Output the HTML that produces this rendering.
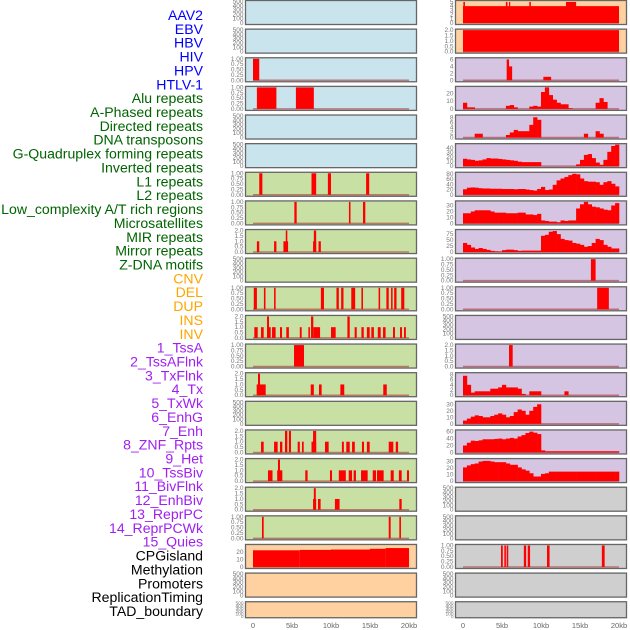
<!DOCTYPE html>
<html><head><meta charset="utf-8">
<style>
html,body{margin:0;padding:0;background:#fff;}
svg{display:block;font-family:"Liberation Sans",sans-serif;}
</style></head>
<body>
<svg id="chart" width="630" height="630" viewBox="0 0 630 630"></svg>
<script>
// ---- labels ----
const labelTexts = ["AAV2","EBV","HBV","HIV","HPV","HTLV-1","Alu repeats","A-Phased repeats","Directed repeats","DNA transposons","G-Quadruplex forming repeats","Inverted repeats","L1 repeats","L2 repeats","Low_complexity A/T rich regions","Microsatellites","MIR repeats","Mirror repeats","Z-DNA motifs","CNV","DEL","DUP","INS","INV","1_TssA","2_TssAFlnk","3_TxFlnk","4_Tx","5_TxWk","6_EnhG","7_Enh","8_ZNF_Rpts","9_Het","10_TssBiv","11_BivFlnk","12_EnhBiv","13_ReprPC","14_ReprPCWk","15_Quies","CPGisland","Methylation","Promoters","ReplicationTiming","TAD_boundary"];
const labelGroups = [0,0,0,0,0,0,1,1,1,1,1,1,1,1,1,1,1,1,1,2,2,2,2,2,3,3,3,3,3,3,3,3,3,3,3,3,3,3,3,4,4,4,4,4];
const xTickLabels = ["0","5kb","10kb","15kb","20kb"];
const xTickValues = [0,5,10,15,20];

// ---- left column interval data [startKb,endKb,value] ----
const row2Left = [[0,0.8,1]];
const row3Left = [[0.5,3.0,1],[5.5,7.8,1]];
const row6Left = [[0.8,1.2,1],[7.5,8.1,1],[9.6,10.0,1],[14.5,14.9,1]];
const row7Left = [[5.3,5.6,1],[12.3,12.5,1],[14.1,14.4,1]];
const row8Left = [[0.5,0.8,1],[2.7,3.0,1],[3.9,4.5,1],[4.2,4.4,2],[7.7,8.1,1],[7.8,8.1,2],[8.4,8.7,1]];
const row10Left = [[0.1,0.5,1],[1.4,1.6,1],[2.7,2.9,1],[8.7,9.1,1],[10.7,11.0,1],[11.3,11.6,1],[12.6,13.1,1],[13.9,14.1,1],[16.1,16.3,1],[17.1,17.4,1],[17.7,17.9,1],[18.1,18.4,1],[19.0,19.4,1]];
const row11Left = [[0.17,0.6,1],[1.03,1.37,1],[1.8,2.27,1],[1.8,2.05,2],[2.44,2.9,1],[3.46,3.72,1],[4.27,4.6,1],[6.0,6.24,1],[7.1,7.3,1],[7.44,7.73,2],[7.73,8.6,1],[10.0,10.6,1],[12.1,12.4,2],[13.03,13.3,1],[13.9,14.2,1],[14.6,14.96,1],[15.17,15.5,1],[16.0,16.37,1],[16.67,17.0,1],[17.95,18.2,1],[18.85,19.1,1],[19.36,19.6,1]];
const row12Left = [[5.26,6.54,1]];
const row13Left = [[0.47,1.63,1],[0.64,0.9,2],[7.4,7.8,1],[8.46,8.8,1],[11.2,11.7,1],[16.7,17.15,1]];
const row15Left = [[1.03,1.37,1],[2.7,3.16,1],[3.46,3.76,1],[4.1,4.4,2],[4.6,4.87,2],[5.73,6.0,1],[6.28,6.5,1],[7.5,8.1,1],[7.7,8.1,2],[9.23,9.7,1],[11.4,11.65,1],[11.96,12.4,1],[12.7,13.05,1],[13.97,14.23,1],[14.6,14.96,1],[17.4,17.99,1],[18.3,18.6,1]];
const row16Left = [[1.92,2.5,1],[3.1,3.76,1],[3.2,3.46,2],[6.7,7.0,1],[9.87,10.13,1],[11.0,11.9,1],[12.27,12.7,1],[12.9,13.2,1],[13.85,14.7,1],[15.35,15.77,1],[15.9,16.75,1],[17.65,18.04,1],[18.7,19.06,1],[19.74,20.0,1]];
const row17Left = [[7.7,8.1,1],[7.8,8.05,2],[8.33,8.67,1],[10.5,11.1,1],[18.76,19.06,1]];
const row18Left = [[1.15,1.37,1],[17.4,17.65,1],[18.76,18.97,1]];
const row19Left = [[0,6,22.5],[6,10,23],[10,15,23.5],[15,17,24.5],[17,20,25.5]];

// ---- right column data ----
const row0Right = [[0,20,4],[0.05,0.25,5],[5.5,5.7,5],[5.9,6.0,5],[8.5,8.7,5],[13.2,14.5,5]];
const row1Right = [[0,20,2]];
const row2Right = [[5.6,5.9,6],[5.9,6.3,4],[10.3,11.3,1]];
const row9Right = [[16.4,17.0,1]];
const row10Right = [[17.2,18.7,1]];
const row12Right = [[5.9,6.37,2]];
const row19Right = [[4.87,5.1,1],[5.3,5.5,1],[5.6,5.8,1],[7.8,8.1,1],[8.3,8.6,1],[10.77,11.1,1],[17.8,18.16,1]];
// binned series, 0.5kb bins from 0 to 20kb
const row3RightBins = [8,2,2,0,0,0,0,0,0,0,0,4,5,2,0,0,0,3,4,3,22,28,18,12,8,6,6,1,0,0,0,0,0,0,8,14,9,0,0,0];
const row4RightBins = [0,0,0,1.5,1.5,0,0,0,0,0,0,1,2,3,2.5,2.5,2.5,5,8,7,0,0,0,0,0,0,0,0,0,0,0,1.5,0,0,2.5,1.5,0,0,0,0];
const row5RightBins = [16.5,15,14,12,13,15,18,17,17,16,15,14,13,12,10,9,9,9,9,9,0,0,0,0,0,0,0,0,0,4,14,25,27,18,8,3,14,32,45,48];
const row6RightBins = [21,27,28,27,25,24,24,23,23,23,22,22,22,21,22,22,20,18,16,22,30,18,20,38,55,62,68,75,80,78,62,52,50,50,48,38,48,52,42,32];
const row7RightBins = [17,17,20,22,22,22,22,20,18,18,18,17,17,17,18,18,15,15,14,16,5,4,3,3,2,5,4,5,5,25,32,36,32,28,27,25,23,22,30,34];
const row8RightBins = [38,30,19,13,17,13,9,5,3,2,8,10,10,8,5,6,6,6,6,6,68,72,85,88,75,55,50,48,38,35,30,22,25,38,55,50,30,22,15,15];
const row13RightBins = [7.5,4,1,1.5,1.5,1.5,1.5,2.5,2.5,3,4,3,3,3,2.5,0.5,0,1.5,1.5,1.5,0,0,0,0,0,0,1.5,0,0,0,0,0,0,0,0,0,0,0,0,0];
const row14RightBins = [5,8,11,13,12,10,10,12,14,16,14,10,12,18,22,20,14,20,26,30,0,0,0,0,0,0,0,0,0,0,0,0,0,0,0,0,0,0,0,0];
const row15RightBins = [20,28,34,33,35,38,38,38,39,40,38,40,42,40,46,50,56,60,57,53,6,3.5,3.5,3.5,3.5,3.5,3.5,3.5,3.5,3.5,3.5,3.5,3.5,3.5,3.5,3.5,3.5,3.5,3.5,3.5];
const row16RightBins = [21,24,26,27,30,31,31,30,29,29,29,27,25,25,21,18,16,12,7,7,11,12,14.5,14.5,14.5,14.5,14.5,14.5,14.5,14.5,14.5,14.5,14.5,14.5,14.5,14.5,14.5,14.5,14.5,14.5];

// ---- axis tick sets ----
const ticksEmpty = [0,100,200,300,400,500];
const ticksUnit = [0,0.25,0.5,0.75,1];
const ticksTwo = [0,0.5,1,1.5,2];

const BLUE="#c9e4ec", GREEN="#c8e0a4", LAV="#d5c4e2", PEACH="#ffd0a0", GREY="#cfcfcf";
function P(bg, ticks, ymax, fmt, kind, data){return {bg:bg,ticks:ticks,ymax:ymax,fmt:fmt,kind:kind,data:data};}
const E = bg => P(bg, ticksEmpty, 500, 0, "empty", null);
const U = (bg,d) => P(bg, ticksUnit, 1, 2, "iv", d);
const T2 = (bg,d) => P(bg, ticksTwo, 2, 1, "iv", d);

const leftPanels = [
 E(BLUE),E(BLUE),U(BLUE,row2Left),U(BLUE,row3Left),E(BLUE),E(BLUE),
 U(GREEN,row6Left),U(GREEN,row7Left),T2(GREEN,row8Left),E(GREEN),U(GREEN,row10Left),T2(GREEN,row11Left),
 U(GREEN,row12Left),T2(GREEN,row13Left),E(GREEN),T2(GREEN,row15Left),T2(GREEN,row16Left),T2(GREEN,row17Left),U(GREEN,row18Left),
 P(PEACH,[0,10,20],29,0,"iv",row19Left),E(PEACH),E(PEACH)];
const rightPanels = [
 P(PEACH,[0,1,2,3,4,5],5.1,0,"iv",row0Right),T2(PEACH,row1Right),
 P(LAV,[0,2,4,6],6.2,0,"iv",row2Right),
 P(LAV,[0,10,20],28,0,"bins",row3RightBins),
 P(LAV,[0,2,4,6,8],8.5,0,"bins",row4RightBins),
 P(LAV,[0,10,20,30,40],48,0,"bins",row5RightBins),
 P(LAV,[0,20,40,60,80],82,0,"bins",row6RightBins),
 P(LAV,[0,10,20,30],36,0,"bins",row7RightBins),
 P(LAV,[0,25,50,75],90,0,"bins",row8RightBins),
 U(LAV,row9Right),U(LAV,row10Right),E(LAV),T2(LAV,row12Right),
 P(LAV,[0,2,4,6,8],8.3,0,"bins",row13RightBins),
 P(LAV,[0,10,20,30],33,0,"bins",row14RightBins),
 P(LAV,[0,20,40,60],62,0,"bins",row15RightBins),
 P(LAV,[0,10,20,30],33,0,"bins",row16RightBins),
 E(GREY),E(GREY),U(GREY,row19Right),E(GREY),E(GREY)];

const svg = document.getElementById('chart');
const NS = "http://www.w3.org/2000/svg";
function mk(tag, attrs, parent){const e=document.createElementNS(NS,tag);for(const k in attrs)e.setAttribute(k,attrs[k]);(parent||svg).appendChild(e);return e;}

// labels
const groupColors = ["#0000ff","#006400","#ffa500","#a020f0","#000000"];
for(let i=0;i<labelTexts.length;i++){
  const t = mk('text',{x:203,y:15+i*13.86+5,'text-anchor':'end','font-size':'14.1',fill:groupColors[labelGroups[i]]});
  t.textContent = labelTexts[i];
  
  
}

function rowTop(i){return 0.5+28.63*i;}
function rowH(i){return i===21?16:24;}

function drawPanel(p, i, px0, dataX0, side){
  const top=rowTop(i), h=rowH(i), w=171;
  const g = mk('g',{});
  
  
  mk('rect',{x:px0,y:top,width:w,height:h,fill:p.bg},g);
  const y0 = top+h-1.5, y1 = top+1;
  const ys = v => y0-(v/p.ymax)*(y0-y1);
  const xs = kb => dataX0+kb*7.8;
  const fs = h<20?4.8:6.5;
  p.ticks.forEach(v=>{
    const tt = mk('text',{x:px0-2,y:ys(v)+2,'text-anchor':'end','font-size':fs,fill:'#777'},g);
    tt.textContent = p.fmt? v.toFixed(p.fmt) : String(v);
    
    
  });
  if(p.kind!=="empty"){
    mk('line',{x1:xs(0),x2:xs(20),y1:y0,y2:y0,stroke:'rgba(170,40,40,0.55)','stroke-width':1.5},g);
  }
  if(p.kind==="iv"){
    p.data.forEach(d=>{
      const r = mk('rect',{x:xs(d[0]),y:ys(d[2]),width:Math.max(1.2,xs(d[1])-xs(d[0])),height:y0-ys(d[2]),fill:'#ff0000'},g);
      
      
    });
  } else if(p.kind==="bins"){
    p.data.forEach((v,k)=>{
      if(v<=0) return;
      const r = mk('rect',{x:xs(k*0.5),y:ys(v),width:xs(0.5)-xs(0)+0.3,height:y0-ys(v),fill:'#ff0000'},g);
      
      
    });
  }
  mk('rect',{x:px0,y:top,width:w,height:h,fill:'none',stroke:'#666','stroke-width':1.3},g);
}
leftPanels.forEach((p,i)=>drawPanel(p,i,245.5,253,'left'));
rightPanels.forEach((p,i)=>drawPanel(p,i,455.5,463,'right'));

// x axes
[253,463].forEach((x0,c)=>{
  xTickValues.forEach((v,k)=>{
    const t = mk('text',{x:x0+v*7.8,y:628,'text-anchor':'middle','font-size':'7.5',fill:'#666'});
    t.textContent = xTickLabels[k];
    
    
  });
});
</script>
</body></html>
